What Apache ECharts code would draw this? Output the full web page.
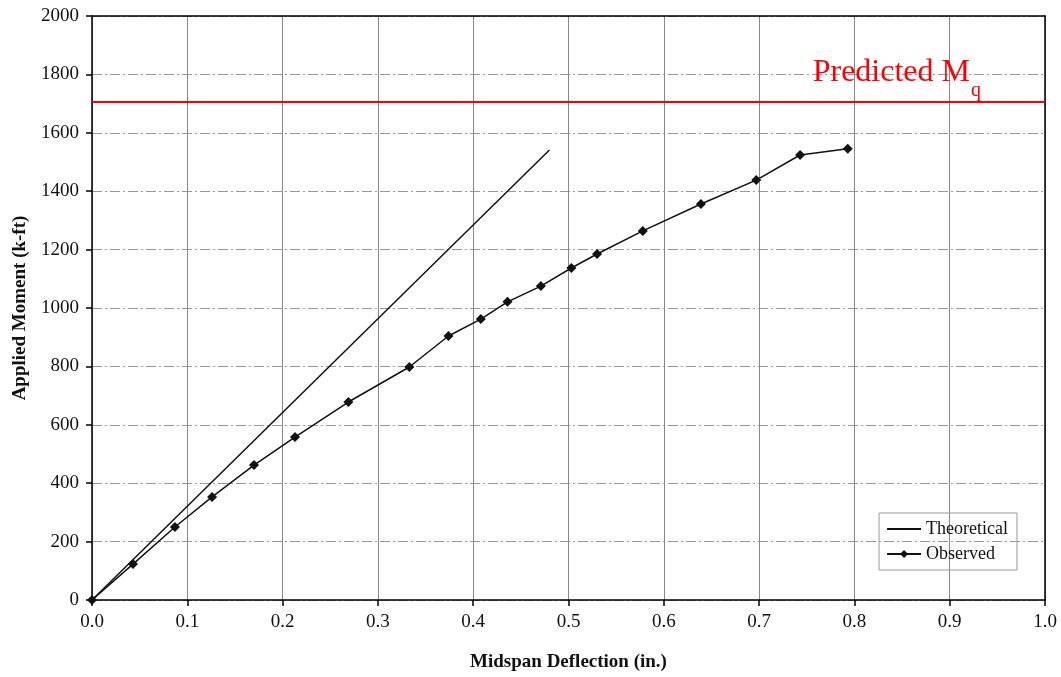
<!DOCTYPE html>
<html>
<head>
<meta charset="utf-8">
<script src="https://cdn.jsdelivr.net/npm/echarts@6/dist/echarts.min.js"></script>
<style>
  html, body { margin: 0; padding: 0; background: #fff; }
  #main { width: 1061px; height: 677px; }
</style>
</head>
<body>
<div id="main"></div>
<script>
var xTicks = [0, 0.1, 0.2, 0.3, 0.4, 0.5, 0.6, 0.7, 0.8, 0.9, 1.0];
var yTicks = [0, 200, 400, 600, 800, 1000, 1200, 1400, 1600, 1800, 2000];

var theoretical = [[0, 0], [0.48, 1541]];

var observedDefl = [0, 0.043, 0.087, 0.126, 0.170, 0.213, 0.269, 0.333, 0.374, 0.408,
  0.436, 0.471, 0.503, 0.530, 0.578, 0.639, 0.697, 0.743, 0.793];
var observedMoment = [0, 123, 250, 353, 462, 558, 678, 798, 904, 962,
  1021, 1075, 1137, 1185, 1264, 1356, 1438, 1524, 1545];

var predictedMq = 1705;

var chartDom = document.getElementById('main');
var myChart = echarts.init(chartDom);

var serif = 'Liberation Serif';
var observed = observedDefl.map(function (d, i) { return [d, observedMoment[i]]; });

// plain frame axes for the top and right border
var frameAxis = {
  type: 'value',
  axisLine: { show: true, onZero: false, lineStyle: { color: '#000', width: 1.5 } },
  axisTick: { show: false },
  axisLabel: { show: false },
  splitLine: { show: false }
};

var option = {
  animation: false,
  backgroundColor: '#fff',
  textStyle: { fontFamily: serif },
  grid: { left: 92, right: 16, top: 16, bottom: 77 },
  legend: {
    right: 44, bottom: 107,
    orient: 'vertical',
    itemWidth: 34, itemHeight: 10, itemGap: 7,
    padding: [7, 9, 7, 7],
    borderColor: '#999', borderWidth: 1,
    textStyle: { fontFamily: serif, fontSize: 18, color: '#111' },
    data: [
      { name: 'Theoretical', itemStyle: { opacity: 0 } },
      { name: 'Observed' }
    ]
  },
  xAxis: [
    {
      type: 'value',
      min: 0, max: 1, interval: 0.1,
      name: 'Midspan Deflection (in.)',
      nameLocation: 'middle', nameGap: 53,
      nameTextStyle: { fontFamily: serif, fontSize: 19, fontWeight: 'bold', color: '#111' },
      axisLine: { lineStyle: { color: '#000', width: 1.5 } },
      axisTick: { show: true, inside: false, length: 6, lineStyle: { color: '#000', width: 1.5 } },
      axisLabel: {
        fontFamily: serif, fontSize: 19, color: '#111', margin: 13,
        formatter: function (v) { return v.toFixed(1); }
      },
      splitLine: { show: true, lineStyle: { color: '#888', width: 1 } }
    },
    Object.assign({ position: 'top', min: 0, max: 1 }, frameAxis)
  ],
  yAxis: [
    {
      type: 'value',
      min: 0, max: 2000, interval: 200,
      name: 'Applied Moment (k-ft)',
      nameLocation: 'middle', nameGap: 62, nameRotate: 90,
      nameTextStyle: { fontFamily: serif, fontSize: 19, fontWeight: 'bold', color: '#111' },
      axisLine: { show: true, lineStyle: { color: '#000', width: 1.5 } },
      axisTick: { show: true, inside: false, length: 6, lineStyle: { color: '#000', width: 1.5 } },
      axisLabel: {
        fontFamily: serif, fontSize: 19, color: '#111', margin: 13,
        formatter: function (v) { return String(v); }
      },
      splitLine: { show: true, lineStyle: { color: '#999', width: 1, type: [10, 3, 2, 3] } }
    },
    Object.assign({ position: 'right', min: 0, max: 2000 }, frameAxis)
  ],
  series: [
    {
      name: 'Theoretical',
      type: 'line',
      data: theoretical,
      symbol: 'none',
      lineStyle: { color: '#111', width: 1.5 },
      itemStyle: { color: '#111' },
      markLine: {
        silent: true,
        symbol: 'none',
        lineStyle: { color: '#ff0000', width: 2, type: 'solid' },
        label: {
          show: true,
          position: 'insideEndTop',
          distance: [64, 10],
          formatter: '{a|Predicted M}{b|q}',
          rich: {
            a: { fontFamily: serif, fontSize: 32, lineHeight: 36, verticalAlign: 'top', color: '#ff0000' },
            b: { fontFamily: serif, fontSize: 20, lineHeight: 20, verticalAlign: 'top', color: '#ff0000', padding: [25, 0, 0, 1] }
          }
        },
        data: [{ yAxis: predictedMq }]
      }
    },
    {
      name: 'Observed',
      type: 'line',
      data: observed,
      symbol: 'diamond',
      symbolSize: 10,
      lineStyle: { color: '#111', width: 1.5 },
      itemStyle: { color: '#111' }
    }
  ]
};

option && myChart.setOption(option);
</script>
</body>
</html>
